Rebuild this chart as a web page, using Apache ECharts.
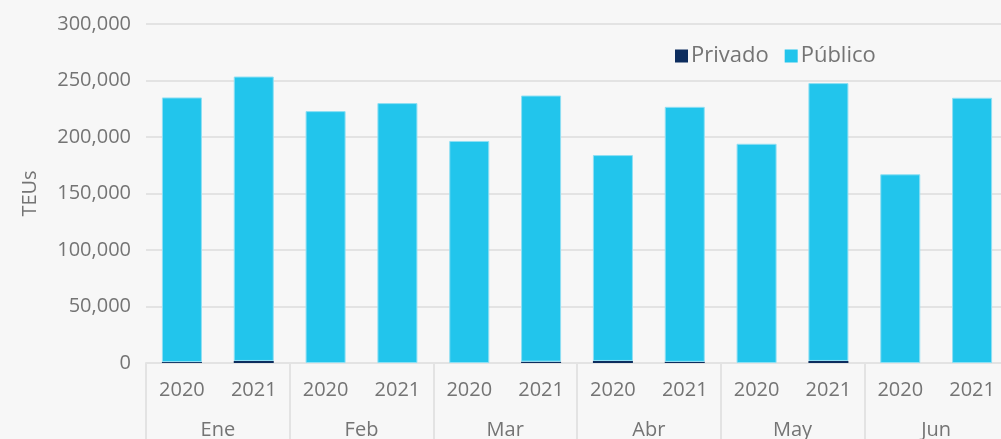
<!DOCTYPE html>
<html>
<head>
<meta charset="utf-8">
<script src="https://cdn.jsdelivr.net/npm/echarts@6/dist/echarts.min.js"></script>
<style>
  html, body { margin: 0; padding: 0; background: #f7f7f7; }
  #chart { width: 1001px; height: 439px; }
</style>
</head>
<body>
<div id="chart"></div>
<script>
    // datos (TEUs)
    var months = ['Ene', 'Feb', 'Mar', 'Abr', 'May', 'Jun'];
    var years = ['2020', '2021', '2020', '2021', '2020', '2021', '2020', '2021', '2020', '2021', '2020', '2021'];
    var privado = [800, 1800, 0, 0, 0, 1200, 1800, 1000, 0, 1800, 0, 0];
    var publico = [234200, 251700, 222900, 230000, 196500, 235500, 182200, 225700, 194000, 245900, 167000, 234700];

    var gray = '#747474';
    var lineGray = '#e3e3e3';
    var font = 'Open Sans';

    var myChart = echarts.init(document.getElementById('chart'));
    var option = {
        backgroundColor: '#f7f7f7',
        textStyle: { fontFamily: font },
        legend: {
            top: 40,
            left: 670,
            itemWidth: 13,
            itemHeight: 13,
            itemGap: 16,
            icon: 'rect',
            itemStyle: { borderWidth: 0 },
            textStyle: { fontSize: 22, color: gray, fontFamily: font, padding: [0, 0, 0, -2] },
            data: ['Privado', 'Público']
        },
        grid: { left: 146, right: -7, top: 24, bottom: 76, outerBoundsMode: 'none', containLabel: false },
        xAxis: [
            {
                type: 'category',
                data: years,
                position: 'bottom',
                axisLine: { lineStyle: { color: lineGray, width: 2 } },
                axisTick: { show: false },
                axisLabel: { color: gray, fontSize: 20, margin: 17, interval: 0, fontFamily: font }
            },
            {
                type: 'category',
                data: months,
                position: 'bottom',
                axisLine: { show: false },
                axisTick: { show: true, length: 80, interval: 0, lineStyle: { color: lineGray, width: 2 } },
                axisLabel: { color: gray, fontSize: 20, margin: 57, interval: 0, fontFamily: font }
            }
        ],
        yAxis: {
            type: 'value',
            min: 0,
            max: 300000,
            interval: 50000,
            name: 'TEUs',
            nameLocation: 'middle',
            nameGap: 106,
            nameTextStyle: { color: gray, fontSize: 20, fontFamily: font },
            axisLine: { show: false },
            axisTick: { show: false },
            axisLabel: {
                color: gray, fontSize: 20, margin: 15, fontFamily: font,
                formatter: function (v) { return v.toLocaleString('en-US'); }
            },
            splitLine: { lineStyle: { color: lineGray, width: 2 } }
        },
        series: [
            {
                name: 'Privado',
                type: 'bar',
                stack: 'total',
                xAxisIndex: 0,
                barWidth: 40,
                data: privado,
                itemStyle: { color: '#0d2d5e' }
            },
            {
                name: 'Público',
                type: 'bar',
                stack: 'total',
                xAxisIndex: 0,
                barWidth: 40,
                data: publico,
                itemStyle: { color: '#22c5ec', borderColor: '#8fdff3', borderWidth: 1 }
            }
        ]
    };
    myChart.setOption(option);
</script>
</body>
</html>
